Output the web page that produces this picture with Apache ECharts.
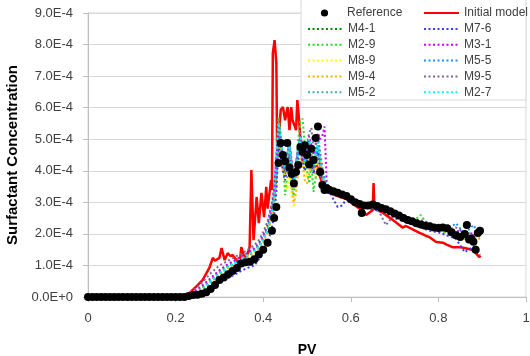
<!DOCTYPE html>
<html>
<head>
<meta charset="utf-8">
<script src="https://cdn.jsdelivr.net/npm/echarts@6/dist/echarts.min.js"></script>
<style>
html,body{margin:0;padding:0;background:#fff;}
#chart{width:530px;height:356px;}
</style>
</head>
<body>
<div id="chart"></div>
<script>
// ---- Data (concentration values in units of 1e-4) ----
const xTicks = [0, 0.2, 0.4, 0.6, 0.8, 1];
const yTicks = ['0.0E+0','1.0E-4','2.0E-4','3.0E-4','4.0E-4','5.0E-4','6.0E-4','7.0E-4','8.0E-4','9.0E-4'];

const pvRef = [0,0.01,0.02,0.03,0.04,0.05,0.06,0.07,0.08,0.09,0.1,0.11,0.12,0.13,0.14,0.15,0.16,0.17,0.18,0.19,0.2,0.21,0.22,
  0.23,0.24,0.25,0.26,0.27,0.28,0.29,0.3,0.31,0.32,0.33,0.34,0.35,0.36,0.37,0.38,0.39,0.4,0.41,0.42,
  0.425,0.43,0.435,0.44,0.445,0.45,0.455,0.46,0.465,0.47,0.475,0.48,0.485,0.49,0.495,0.5,0.505,0.51,0.515,0.52,0.525,0.53,0.535,0.54,0.545,
  0.55,0.56,0.57,0.58,0.59,0.6,0.61,0.62,0.625,
  0.63,0.64,0.65,0.66,0.67,0.68,0.69,0.7,0.71,0.72,0.73,0.74,0.75,0.76,0.77,0.78,0.79,0.8,0.81,0.82,0.83,0.84,0.85,0.86,
  0.865,0.87,0.875,0.88,0.885,0.89,0.895];
const refY = [0,0,0,0,0,0,0,0,0,0,0,0,0,0,0,0,0,0,0,0,0,0,0,
  0.03,0.06,0.07,0.1,0.15,0.25,0.38,0.54,0.62,0.72,0.82,0.92,1.06,1.1,1.12,1.2,1.35,1.5,1.72,2.1,
  2.5,2.85,4.25,4.88,4.5,4.3,4.88,4.1,3.9,3.6,3.96,4.18,4.75,4.6,4.81,4.5,4.2,4.7,4.34,5.04,5.4,3.96,3.55,3.39,3.45,
  3.4,3.35,3.3,3.25,3.2,3.1,3.0,2.95,2.66,
  2.9,2.9,2.93,2.88,2.82,2.78,2.72,2.65,2.58,2.5,2.44,2.4,2.34,2.3,2.26,2.24,2.2,2.19,2.2,2.18,2.05,1.96,1.9,2.0,
  2.28,1.82,1.85,1.75,1.5,2.03,2.1];

const pvInit = [0,0.1,0.2,0.22,0.232,0.245,0.262,0.277,0.285,0.29,0.3,0.305,0.312,0.319,0.325,0.33,0.339,0.346,0.35,0.356,0.362,0.369,
  0.373,0.378,0.385,0.39,0.396,0.402,0.407,0.41,0.418,0.42,0.422,0.426,0.43,0.432,0.44,0.445,0.45,0.453,0.456,0.46,0.464,0.467,0.475,0.478,
  0.482,0.485,0.49,0.5,0.51,0.52,0.53,0.54,0.55,0.57,0.59,0.61,0.625,0.635,0.645,0.65,0.652,0.654,0.66,0.672,0.69,0.7,0.718,0.726,
  0.74,0.757,0.77,0.779,0.795,0.81,0.82,0.832,0.848,0.86,0.878,0.885,0.893,0.897];
const initY = [0,0,0,0,0.13,0.3,0.54,0.92,1.24,1.15,1.24,1.55,1.17,1.39,1.3,1.33,1.17,1.01,1.58,1.3,1.27,1.58,
  4.02,1.8,3.17,2.34,3.3,2.53,3.49,2.8,3.7,3.39,7.73,8.14,7.41,4.34,5.93,6.02,5.6,5.83,6.02,5.29,6.02,5.61,5.29,6.24,
  5.61,4.97,4.3,4.2,4.4,4.3,3.8,3.4,3.3,3.2,3.1,2.9,2.75,2.6,2.7,2.75,3.61,2.8,2.75,2.68,2.5,2.4,2.2,2.25,
  2.15,2.03,1.95,1.9,1.74,1.72,1.65,1.58,1.58,1.55,1.49,1.4,1.27,1.3];

const pvModel = [0,0.1,0.2,0.22,0.24,0.26,0.28,0.3,0.32,0.34,0.36,0.38,0.39,0.4,0.41,0.42,0.425,0.43,
  0.435,0.44,0.445,0.45,0.455,0.46,0.465,0.47,0.475,0.48,0.485,0.49,0.495,0.5,0.505,0.51,0.515,0.52,0.525,0.53,0.535,0.54,0.545,
  0.55,0.56,0.57,0.58,0.59,0.6,0.62,0.64,0.66,0.68,0.7,0.72,0.74,0.76,0.78,0.8,0.82,0.84,0.86,0.88,0.895];

const m41 = [0,0,0,0.02,0.1,0.25,0.5,0.75,0.95,1.1,1.3,1.45,1.6,1.8,2.1,2.6,3.0,3.8,
  5.0,4.6,4.2,3.9,4.4,4.8,4.1,3.6,4.0,4.6,5.0,4.5,4.2,4.6,4.9,4.4,4.0,4.5,4.8,4.2,3.8,3.6,3.5,
  3.45,3.4,3.3,3.22,3.15,3.08,2.95,2.85,2.82,2.72,2.6,2.45,2.35,2.25,2.15,2.1,2.05,1.9,1.85,1.7,1.35];
const m29 = [0,0,0,0.02,0.12,0.28,0.55,0.8,1.0,1.2,1.35,1.5,1.65,1.85,2.2,2.7,3.2,4.2,
  5.7,5.2,4.4,3.23,3.8,4.6,3.5,3.2,4.2,5.0,5.6,5.65,4.8,4.0,3.6,4.2,3.33,3.8,4.6,4.2,3.7,3.5,3.4,
  3.5,3.4,3.35,3.28,3.2,3.12,2.98,2.88,2.8,2.7,2.58,2.48,2.38,2.6,2.2,2.12,2.02,1.92,1.88,1.75,1.4];
const m89 = [0,0,0,0.01,0.08,0.2,0.45,0.7,0.9,1.05,1.25,1.4,1.55,1.75,2.0,2.5,2.9,3.5,
  5.2,4.6,4.0,3.6,3.4,3.9,3.2,2.85,3.4,4.2,4.8,4.5,4.0,3.8,4.4,4.9,4.4,4.0,4.5,4.1,3.7,3.5,3.4,
  3.45,3.38,3.3,3.25,3.18,3.1,2.95,2.88,2.82,2.74,2.62,2.5,2.38,2.28,2.2,2.14,2.1,2.05,1.95,1.85,1.9];
const m94 = [0,0,0,0.01,0.08,0.22,0.45,0.72,0.92,1.08,1.22,1.38,1.52,1.72,2.05,2.55,2.95,3.6,
  5.0,4.4,4.0,3.8,4.2,4.5,3.6,3.0,3.3,4.0,4.6,4.2,3.7,3.6,3.9,4.4,4.1,3.8,4.6,4.3,3.8,3.6,3.45,
  3.4,3.35,3.28,3.2,3.15,3.05,2.92,2.86,2.8,2.7,2.58,2.46,2.35,2.26,2.18,2.1,2.06,1.98,1.92,1.8,1.85];
const m52 = [0,0,0,0.02,0.1,0.25,0.5,0.78,0.98,1.15,1.3,1.48,1.62,1.85,2.15,2.7,3.3,4.3,
  5.6,5.0,4.5,4.1,4.6,4.9,4.2,3.8,4.3,4.8,5.2,4.7,4.3,4.7,5.0,4.5,4.2,4.6,4.9,4.3,3.9,3.6,3.5,
  3.45,3.4,3.32,3.25,3.18,3.1,2.96,2.88,2.8,2.72,2.6,2.48,2.38,2.28,2.2,2.15,2.12,2.05,2.1,1.95,2.0];
const m76 = [0,0,0,0.01,0.05,0.15,0.3,0.5,0.6,0.75,0.9,1.0,1.2,1.4,1.7,2.2,2.6,3.3,
  4.8,4.4,4.0,3.7,4.1,4.5,4.0,3.5,3.9,4.4,4.8,4.3,4.0,4.3,4.7,4.2,3.9,4.3,4.6,4.0,3.6,3.4,3.39,
  3.39,3.1,2.85,2.9,3.1,3.0,2.85,2.8,2.75,2.65,2.5,2.4,2.3,2.2,2.1,2.05,1.95,1.85,1.42,1.6,1.5];
const m31 = [0,0,0,0.03,0.15,0.35,0.6,0.85,1.05,1.2,1.35,1.55,1.7,1.95,2.3,2.9,3.4,4.4,
  5.2,4.8,4.4,4.0,4.5,4.9,4.3,3.8,4.2,4.7,5.1,4.6,4.3,4.7,5.1,4.8,4.5,4.9,5.2,5.0,5.1,5.4,3.6,
  3.5,3.42,3.35,3.3,3.22,3.15,3.0,2.9,2.85,2.76,2.65,2.52,2.42,2.32,2.25,2.2,2.15,2.1,2.05,2.0,2.15];
const m55 = [0,0,0,0.02,0.1,0.25,0.48,0.75,0.95,1.12,1.28,1.45,1.6,1.82,2.15,2.65,3.1,4.0,
  5.4,4.9,4.4,4.0,4.5,4.8,4.1,3.7,4.1,4.6,5.0,4.6,4.2,4.5,4.9,4.5,4.1,4.5,4.8,4.3,3.9,3.7,3.5,
  3.45,3.38,3.3,3.24,3.16,3.08,2.94,2.87,2.8,2.72,2.6,2.48,2.38,2.28,2.22,2.3,2.12,2.34,2.0,2.28,1.95];
const m95 = [0,0,0,0.04,0.2,0.45,0.75,1.0,1.15,1.3,1.45,1.65,1.8,2.05,2.4,3.0,3.5,4.5,
  5.3,4.8,4.3,4.0,4.5,4.9,4.2,3.8,4.2,4.7,5.1,4.7,4.4,4.8,5.2,5.36,4.6,4.8,5.1,4.6,4.1,3.8,3.55,
  3.5,3.45,3.38,3.3,3.22,3.12,2.98,2.9,2.84,2.28,2.62,2.5,2.44,2.44,2.35,2.2,2.15,2.2,2.05,1.95,2.1];
const m27 = [0,0,0,0.02,0.1,0.24,0.48,0.75,0.95,1.12,1.3,1.45,1.6,1.8,2.1,2.6,3.2,4.4,
  5.5,5.0,4.5,4.1,4.5,4.8,4.0,3.6,4.0,4.6,5.1,4.7,4.3,4.6,5.0,4.6,4.2,4.6,4.9,4.4,4.0,3.7,3.5,
  3.45,3.4,3.32,3.26,3.18,3.1,2.96,2.88,2.82,2.74,2.62,2.5,2.4,2.3,2.22,2.16,2.12,2.02,1.96,1.88,1.9];

const modelNames  = ['M4-1','M2-9','M8-9','M9-4','M5-2','M7-6','M3-1','M5-5','M9-5','M2-7'];
const modelValues = [m41, m29, m89, m94, m52, m76, m31, m55, m95, m27];
const modelColors = ['#008a00','#22e022','#ffff00','#ffb000','#4bacc6','#3a3aff','#cc00ff','#1e90ff','#8064a2','#00ffff'];

// ---- build ----
function zip(xs, ys) {
  const n = Math.min(xs.length, ys.length);
  const out = [];
  for (let i = 0; i < n; i++) out.push([xs[i], ys[i]]);
  return out;
}

const FONT = 'Liberation Sans';
const series = [];
series.push({
  name: 'Initial model', type: 'line', data: zip(pvInit, initY),
  symbol: 'none', lineStyle: { color: '#ff0000', width: 2.5 }, itemStyle: { color: '#ff0000' }
});
modelNames.forEach((nm, i) => {
  series.push({
    name: nm, type: 'line', data: zip(pvModel, modelValues[i]),
    symbol: 'none', lineStyle: { color: modelColors[i], width: 2, type: [2, 2.5] },
    itemStyle: { color: modelColors[i] }
  });
});
series.push({
  name: 'Reference', type: 'line', data: zip(pvRef, refY),
  symbol: 'circle', symbolSize: 8, showSymbol: true, showAllSymbol: true,
  lineStyle: { width: 0, opacity: 0 },
  itemStyle: { color: '#000000', opacity: 1 }
});

const legendText = { fontFamily: FONT, fontSize: 12, color: '#404040' };
const legendBase = { selectedMode: false, padding: 0, itemWidth: 35, itemHeight: 12, textStyle: legendText, orient: 'vertical', itemGap: 3.8 };

const chart = echarts.init(document.getElementById('chart'), null, { renderer: 'canvas' });
chart.setOption({
  animation: false,
  backgroundColor: '#ffffff',
  grid: { left: 88, right: 4, top: 13, bottom: 59, containLabel: false, outerBoundsMode: 'none',
    show: true, borderColor: '#d9d9d9', borderWidth: 1 },
  xAxis: {
    type: 'value', min: 0, max: 1, interval: 0.2,
    name: 'PV', nameLocation: 'middle', nameGap: 46,
    nameTextStyle: { fontFamily: FONT, fontSize: 14, fontWeight: 'bold', color: '#000' },
    axisLine: { show: true, lineStyle: { color: '#bfbfbf' } },
    axisTick: { show: true, inside: false, length: 5, lineStyle: { color: '#bfbfbf' } },
    axisLabel: { fontFamily: FONT, fontSize: 13, color: '#404040', margin: 15,
      formatter: v => { const i = xTicks.indexOf(Math.round(v * 10) / 10); return i >= 0 ? String(xTicks[i]) : ''; } },
    splitLine: { show: false }
  },
  yAxis: {
    type: 'value', min: 0, max: 9, interval: 1,
    name: 'Surfactant Concentration', nameLocation: 'middle', nameGap: 64,
    nameTextStyle: { fontFamily: FONT, fontSize: 15, fontWeight: 'bold', color: '#000' },
    axisLine: { show: true, lineStyle: { color: '#bfbfbf' } },
    axisTick: { show: true, inside: false, length: 5, lineStyle: { color: '#bfbfbf' } },
    axisLabel: { fontFamily: FONT, fontSize: 13, color: '#404040', margin: 15,
      formatter: v => yTicks[Math.round(v)] },
    splitLine: { show: true, lineStyle: { color: '#d9d9d9', width: 1 } }
  },
  graphic: [{
    type: 'rect', z: 3,
    shape: { x: 301, y: -1, width: 225, height: 101 },
    style: { fill: '#ffffff', stroke: '#d9d9d9', lineWidth: 1 }
  }],
  legend: [
    Object.assign({}, legendBase, { data: ['Reference'], left: 307, top: 7, itemHeight: 9,
      lineStyle: { opacity: 0, width: 0 } }),
    Object.assign({}, legendBase, { data: ['Initial model'], left: 423, top: 7, itemStyle: { opacity: 0 } }),
    Object.assign({}, legendBase, { data: modelNames.slice(0, 5), left: 307, top: 23, itemStyle: { opacity: 0 } }),
    Object.assign({}, legendBase, { data: modelNames.slice(5), left: 423, top: 23, itemStyle: { opacity: 0 } })
  ],
  series: series
});
</script>
</body>
</html>
